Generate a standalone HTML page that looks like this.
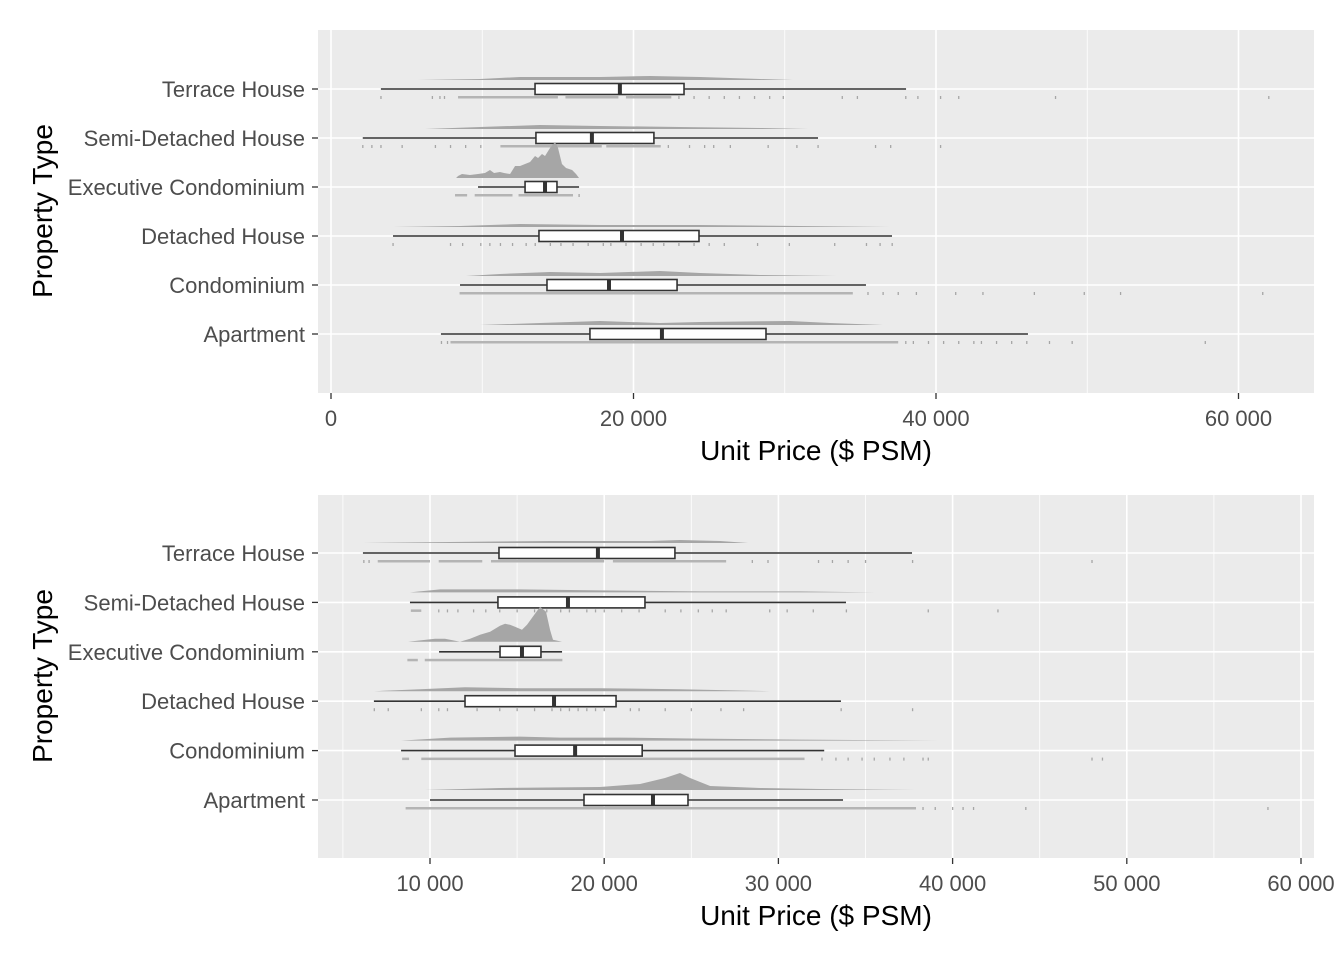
<!DOCTYPE html>
<html><head><meta charset="utf-8"><style>
body{margin:0;background:#fff;}
svg{display:block;font-family:"Liberation Sans",Arial,sans-serif;}
</style></head><body>
<svg id="chart" width="1344" height="960" viewBox="0 0 1344 960" xmlns="http://www.w3.org/2000/svg"></svg>
<script>
// ---- data (values in thousands of $ PSM) ----
const categories = ["Terrace House","Semi-Detached House","Executive Condominium","Detached House","Condominium","Apartment"];
// boxes: [lowWhisker, q1, median, q3, highWhisker]
const topBoxes = [[3.3,13.49,19.1,23.34,38.02],[2.1,13.55,17.25,21.35,32.2],[9.72,12.83,14.15,14.94,16.4],[4.1,13.75,19.24,24.33,37.09],[8.53,14.28,18.38,22.88,35.37],[7.27,17.12,21.88,28.76,46.08]];
const bottomBoxes = [[6.15,13.96,19.64,24.06,37.67],[8.85,13.9,17.92,22.34,33.88],[10.52,14.02,15.28,16.37,17.58],[6.78,12.01,17.12,20.68,33.59],[8.34,14.88,18.33,22.18,32.63],[10.0,18.84,22.8,24.81,33.71]];
const topDensX = [
 [5.75,9.85,12.5,17.79,21.09,24.4,28.37,30.55],
 [6.22,9.85,13.82,17.79,23.08,28.37,31.54],
 [8.27,8.4,8.66,9.19,9.72,10.18,10.51,10.78,11.17,11.44,11.84,12.17,12.5,12.83,13.16,13.49,13.69,13.95,14.15,14.48,14.81,15.01,15.27,15.54,15.94,16.2,16.4],
 [4.1,8.53,12.5,17.79,24.4,31.01,37.09],
 [8.93,11.17,14.48,17.79,21.75,24.4,28.37,33.39],
 [9.85,13.82,17.79,21.75,24.4,30.35,32.99,36.5]];
const topDensY = [
 [0,1,3,3,4,3,1,0],
 [0,2,4,3,2,1,0],
 [0,2,4,3,4,5,8,5,6,5,4,12,12,14,16,22,20,24,22,30,36,30,14,10,8,4,0],
 [0,1,3,2,2,1,0],
 [0,2,4,3,5,3,1,0],
 [0,2,4,2,3,4,2,0]];
const bottomDensX = [
 [6.15,11.15,16.89,22.63,24.35,26.65,28.26],
 [8.85,10.58,15.17,19.76,25.5,31.24,35.55],
 [8.74,10.29,10.86,11.44,11.72,12.3,12.87,13.45,14.02,14.31,14.59,14.88,15.28,15.57,15.86,16.32,16.66,16.89,17.06,17.58],
 [6.79,9.43,12.01,15.17,19.76,24.35,29.52],
 [8.34,11.15,15.17,17.46,20.91,25.5,31.24,39.17],
 [9.71,14.02,19.76,22.06,23.49,24.35,24.93,26.08,28.95,32.39,37.85]];
const bottomDensY = [
 [0,1,2,2,3,2,0],
 [0,3,3,2,1,1,0],
 [0,3,3,1,0,3,7,10,16,18,17,15,12,17,24,35,30,12,2,0],
 [0,2,4,3,3,2,0],
 [0,3,4,3,3,2,1,0],
 [0,2,3,6,12,17,12,4,2,1,0]];
const topRugBands = [[[8.4,15],[15.5,19],[19.5,22.5]],[[11.2,17.9],[18.2,21.8]],[[8.2,9.0],[9.5,12.0],[12.4,16.0]],[],[[8.5,34.5]],[[7.9,37.5]]];
const topRugPts = [
 [3.3,6.7,7.2,7.5,23,24,25,26,27,28,29,29.9,33.8,34.8,38.0,38.8,40.3,41.5,47.9,62.0],
 [2.1,2.7,3.3,4.7,6.9,7.9,8.9,9.9,22.3,23.7,24.7,25.3,26.4,28.9,30.8,32.2,36.0,37.0,40.3],
 [16.4],
 [4.1,7.9,8.7,9.9,10.5,11.2,12,12.9,13.5,14.5,15.2,16,17,18,18.5,19.5,20.5,21.3,22,23,24,25,26,28.2,30.3,33.3,35.4,36.3,37.1],
 [35.5,36.5,37.5,38.7,41.3,43.1,46.5,49.8,52.2,61.6],
 [7.3,7.7,38,38.5,39.5,40.5,41.5,42.5,43,44,45,46,47.5,49,57.8]];
const bottomRugBands = [[[7,10],[10.5,13],[13.5,20],[20.5,27]],[[8.9,9.5]],[[8.7,9.3],[9.7,17.6]],[],[[8.4,8.8],[9.5,31.5]],[[8.6,37.9]]];
const bottomRugPts = [
 [6.2,6.5,28.5,29.4,32.3,33.1,34,35,37.7,48.0],
 [10.5,11,11.6,12.5,13.2,14,15,16,16.7,17.5,18,19,19.5,20,21,22,23.5,24.4,25.4,26.2,27,29.5,30.5,32,33.9,38.6,42.6],
 [],
 [6.8,7.6,9.5,10.5,11,12.7,14,15,16,17,17.5,18,18.5,19,19.5,20,21.5,22,23.5,25,26.7,28,33.6,37.7],
 [32.5,33.3,34,34.8,35.5,36.4,37.2,38.3,38.6,48,48.6],
 [38.3,39,40,40.6,41.2,44.2,58.1]];
const topTicks = [0,20,40,60];
const topTickLabels = ["0","20 000","40 000","60 000"];
const topMinor = [10,30,50];
const bottomTicks = [10,20,30,40,50,60];
const bottomTickLabels = ["10 000","20 000","30 000","40 000","50 000","60 000"];
const bottomMinor = [5,15,25,35,45,55];

const NS="http://www.w3.org/2000/svg";
const svg=document.getElementById('chart');
function mk(tag,attrs,parent){const e=document.createElementNS(NS,tag);for(const k in attrs)e.setAttribute(k,attrs[k]);(parent||svg).appendChild(e);return e;}

function panel(cfg){
  const g=mk('g',{});
  
  
  const x=v=>cfg.x0+(v-cfg.d0)/(cfg.d1-cfg.d0)*(cfg.x1-cfg.x0);
  const y=i=>cfg.yTop+cfg.step*i;
  const bg=mk('rect',{x:318,y:cfg.top,width:996,height:363,fill:'#EBEBEB'},g);
  
  
  cfg.minor.forEach(v=>{const l=mk('line',{x1:x(v),x2:x(v),y1:cfg.top,y2:cfg.top+363,stroke:'#fff','stroke-width':0.8},g);
    });
  cfg.ticks.forEach(v=>{const l=mk('line',{x1:x(v),x2:x(v),y1:cfg.top,y2:cfg.top+363,stroke:'#fff','stroke-width':1.6},g);
    });
  categories.forEach((c,i)=>{const l=mk('line',{x1:318,x2:1314,y1:y(i),y2:y(i),stroke:'#fff','stroke-width':1.6},g);
    });
  categories.forEach((c,i)=>{
    const yy=y(i);
    const dx=cfg.densX[i], dy=cfg.densY[i];
    const base=yy-cfg.dOff;
    let d='M'+x(dx[0])+','+base;
    dx.forEach((v,j)=>{d+=' L'+x(v)+','+(base-dy[j]);});
    d+=' L'+x(dx[dx.length-1])+','+base+' Z';
    const p=mk('path',{d:d,fill:'#A6A6A6'},g);
    
    
    cfg.bands[i].forEach(b=>{const r=mk('rect',{x:x(b[0]),y:yy+7,width:x(b[1])-x(b[0]),height:2.5,fill:'#B4B4B4'},g);
      });
    cfg.pts[i].forEach(v=>{const r=mk('rect',{x:x(v)-0.6,y:yy+7,width:1.3,height:3,fill:'#A6A6A6'},g);
      });
    const b=cfg.boxes[i];
    const w=mk('line',{x1:x(b[0]),x2:x(b[4]),y1:yy,y2:yy,stroke:'#333','stroke-width':1.6},g);
    
    const r=mk('rect',{x:x(b[1]),y:yy-5.5,width:x(b[3])-x(b[1]),height:11,fill:'#fff',stroke:'#333','stroke-width':1.6},g);
    
    const m=mk('line',{x1:x(b[2]),x2:x(b[2]),y1:yy-5.5,y2:yy+5.5,stroke:'#333','stroke-width':4},g);
    
    const t=mk('text',{x:305,y:yy+8,'text-anchor':'end','font-size':22,fill:'#4D4D4D'},g);
    t.textContent=c;
    
    const tk=mk('line',{x1:312,x2:318,y1:yy,y2:yy,stroke:'#333','stroke-width':1.3},g);
    
  });
  cfg.ticks.forEach((v,j)=>{
    const tk=mk('line',{x1:x(v),x2:x(v),y1:cfg.top+363,y2:cfg.top+369,stroke:'#333','stroke-width':1.3},g);
    
    const t=mk('text',{x:x(v),y:cfg.top+396,'text-anchor':'middle','font-size':22,fill:'#4D4D4D'},g);
    t.textContent=cfg.labels[j];
    
  });
  const xt=mk('text',{x:816,y:cfg.top+430,'text-anchor':'middle','font-size':28,fill:'#000'},g);
  xt.textContent='Unit Price ($ PSM)';
  
  const cy=cfg.top+181;
  const yt=mk('text',{x:0,y:0,'text-anchor':'middle','font-size':28,fill:'#000',transform:'translate(52,'+cy+') rotate(-90)'},g);
  yt.textContent='Property Type';
  
}
panel({name:'top-panel',top:30,x0:331,x1:936,d0:0,d1:40,yTop:89,step:49,dOff:9,
  densX:topDensX,densY:topDensY,bands:topRugBands,pts:topRugPts,boxes:topBoxes,ticks:topTicks,labels:topTickLabels,minor:topMinor});
panel({name:'bottom-panel',top:495,x0:430,x1:1301,d0:10,d1:60,yTop:553,step:49.4,dOff:10,
  densX:bottomDensX,densY:bottomDensY,bands:bottomRugBands,pts:bottomRugPts,boxes:bottomBoxes,ticks:bottomTicks,labels:bottomTickLabels,minor:bottomMinor});
</script>
</body></html>
